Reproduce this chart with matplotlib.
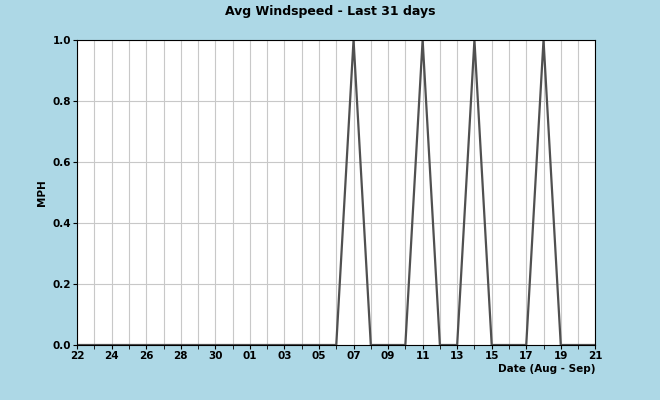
import matplotlib.pyplot as plt

# Daily values, Aug 22 .. Sep 21
days = ['22', '23', '24', '25', '26', '27', '28', '29', '30', '31',
        '01', '02', '03', '04', '05', '06', '07', '08', '09', '10',
        '11', '12', '13', '14', '15', '16', '17', '18', '19', '20', '21']
windspeed = [0, 0, 0, 0, 0, 0, 0, 0, 0, 0,
             0, 0, 0, 0, 0, 0, 1, 0, 0, 0,
             1, 0, 0, 1, 0, 0, 0, 1, 0, 0, 0]

bg = '#add8e6'
fig = plt.figure(figsize=(6.6, 4.0), dpi=100, facecolor=bg)
ax = fig.add_axes([0.117, 0.1375, 0.785, 0.7625])
ax.set_facecolor('white')

x = list(range(len(days)))
ax.plot(x, windspeed, color='#505050', linewidth=1.6)

ax.set_xlim(0, len(days) - 1)
ax.set_ylim(0, 1.0)
ax.set_xticks(x[::2])
ax.set_xticklabels(days[::2], fontsize=7.5, fontweight='bold')
ax.set_xticks(x, minor=True)
ax.set_yticks([0, 0.2, 0.4, 0.6, 0.8, 1.0])
ax.set_yticklabels(['0.0', '0.2', '0.4', '0.6', '0.8', '1.0'], fontsize=7.5, fontweight='bold')
ax.grid(True, which='both', axis='x', color='#c8c8c8', linewidth=0.8)
ax.grid(True, which='major', axis='y', color='#c8c8c8', linewidth=0.8)
ax.tick_params(which='both', length=3, pad=1.5)
for s in ax.spines.values():
    s.set_color('black')

ax.set_ylabel('MPH', fontsize=7.5, fontweight='bold')
fig.text(0.5, 0.97, 'Avg Windspeed - Last 31 days', ha='center', va='center',
         fontsize=9, fontweight='bold')
fig.text(0.902, 0.078, 'Date (Aug - Sep)', ha='right', va='center',
         fontsize=7.5, fontweight='bold')

fig.savefig('out.png', dpi=100, facecolor=bg)
